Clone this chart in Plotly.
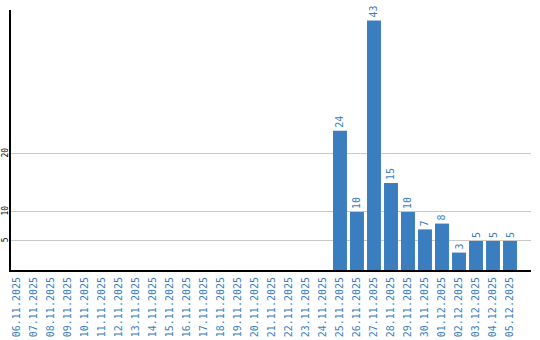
import plotly.graph_objects as go

dates = ["06.11.2025","07.11.2025","08.11.2025","09.11.2025","10.11.2025","11.11.2025",
         "12.11.2025","13.11.2025","14.11.2025","15.11.2025","16.11.2025","17.11.2025",
         "18.11.2025","19.11.2025","20.11.2025","21.11.2025","22.11.2025","23.11.2025",
         "24.11.2025","25.11.2025","26.11.2025","27.11.2025","28.11.2025","29.11.2025",
         "30.11.2025","01.12.2025","02.12.2025","03.12.2025","04.12.2025","05.12.2025"]
values = [0,0,0,0,0,0,0,0,0,0,0,0,0,0,0,0,0,0,0,24,10,43,15,10,7,8,3,5,5,5]
y_ticks = [5, 10, 20]

blue = "#3a7ebf"
mono = "DejaVu Sans Mono"
labels = [str(v) if v > 0 else "" for v in values]

fig = go.Figure(go.Bar(
    x=list(range(len(dates))), y=values, text=labels,
    textposition="outside", textangle=-90, cliponaxis=False,
    textfont=dict(family=mono, size=10, color=blue),
    marker=dict(color=blue, line=dict(width=0)), width=0.82,
))
fig.update_layout(
    width=540, height=340, margin=dict(l=11, r=9, t=10, b=70, autoexpand=False),
    plot_bgcolor="white", paper_bgcolor="white", showlegend=False,
)
fig.update_xaxes(
    tickmode="array", tickvals=list(range(len(dates))), ticktext=dates,
    tickangle=-90, tickfont=dict(family=mono, size=10, color=blue),
    range=[-0.35, 30.235], showline=True, linecolor="black", linewidth=2,
    showgrid=False, ticks="", ticklabelstandoff=1, zeroline=False, automargin=False,
)
fig.update_yaxes(
    tickmode="array", tickvals=y_ticks, ticktext=[str(t) for t in y_ticks],
    tickangle=-90, tickfont=dict(family=mono, size=8, color="black"),
    range=[0, 44.8], showline=True, linecolor="black", linewidth=2,
    showgrid=True, gridcolor="#c8c8c8", gridwidth=1, ticks="", zeroline=False,
    automargin=False, ticklabelstandoff=-2,
)
fig.write_html("out.html")
